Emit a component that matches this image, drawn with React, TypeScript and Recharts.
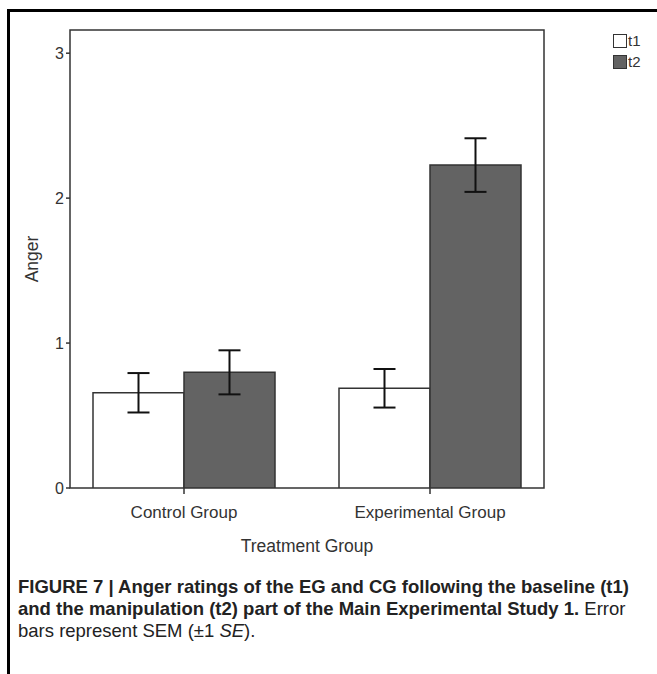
import { Bar, BarChart, ErrorBar, XAxis, YAxis } from "recharts";

const groups = ["Control Group", "Experimental Group"];
const t1Means = [0.657, 0.688];
const t1Se = [0.136, 0.133];
const t2Means = [0.798, 2.228];
const t2Se = [0.152, 0.185];
const yTicks = [0, 1, 2, 3];
const seriesNames = ["t1", "t2"];
const seriesFills = ["#ffffff", "#636363"];

const data = groups.map((group, i) => ({
  group,
  t1: t1Means[i],
  t1Err: t1Se[i],
  t2: t2Means[i],
  t2Err: t2Se[i],
}));

const font = "'Liberation Sans', Arial, sans-serif";
const ink = "#333333";

// plot box edges in page pixels
const box = { left: 70, top: 30, right: 544, bottom: 488 };
const chartW = 657;
const chartH = 560;

function LegendBox() {
  return (
    <div style={{ position: "absolute", left: 613, top: 30, fontFamily: font, fontSize: 15, color: ink }}>
      {seriesNames.map((name, i) => (
        <div key={name} style={{ display: "flex", alignItems: "center", height: 21 }}>
          <span
            style={{
              display: "inline-block",
              width: 12,
              height: 12,
              background: seriesFills[i],
              border: `1px solid ${ink}`,
              marginRight: 1,
            }}
          />
          {name}
        </div>
      ))}
    </div>
  );
}

export default function App() {
  return (
    <div style={{ position: "fixed", left: 0, top: 0, width: 657, height: 674, background: "#fff", overflow: "hidden" }}>
      <div
        style={{
          position: "absolute",
          left: 7,
          top: 9,
          width: 660,
          height: 680,
          borderTop: "3px solid #000",
          borderLeft: "3px solid #000",
        }}
      />
      <div style={{ position: "absolute", left: 0, top: 0 }}>
        <BarChart
          width={chartW}
          height={chartH}
          data={data}
          barGap={0}
          barSize={91}
          margin={{ top: box.top, left: box.left - 30, right: chartW - box.right, bottom: chartH - box.bottom - 30 }}
        >
          <rect
            x={box.left}
            y={box.top}
            width={box.right - box.left}
            height={box.bottom - box.top}
            fill="none"
            stroke={ink}
            strokeWidth={1.5}
          />
          <XAxis
            dataKey="group"
            height={30}
            padding={{ left: -9, right: -9 }}
            axisLine={false}
            tickSize={6}
            tickMargin={12}
            tickLine={{ stroke: ink, strokeWidth: 1.5 }}
            tick={{ fill: ink, fontSize: 17, fontFamily: font }}
          />
          <YAxis
            width={30}
            type="number"
            domain={[0, 3.16]}
            ticks={yTicks}
            allowDataOverflow
            axisLine={false}
            tickSize={4}
            tickLine={{ stroke: ink, strokeWidth: 1.5 }}
            tick={{ fill: ink, fontSize: 16, fontFamily: font }}
          />
          <Bar dataKey="t1" fill={seriesFills[0]} stroke={ink} strokeWidth={1.5} isAnimationActive={false}>
            <ErrorBar dataKey="t1Err" width={11} stroke="#111" strokeWidth={2} isAnimationActive={false} />
          </Bar>
          <Bar dataKey="t2" fill={seriesFills[1]} stroke={ink} strokeWidth={1.5} isAnimationActive={false}>
            <ErrorBar dataKey="t2Err" width={11} stroke="#111" strokeWidth={2} isAnimationActive={false} />
          </Bar>
          <text
            x={(box.left + box.right) / 2}
            y={552}
            textAnchor="middle"
            fill={ink}
            fontSize={17.5}
            fontFamily={font}
          >
            Treatment Group
          </text>
          <text
            x={38}
            y={(box.top + box.bottom) / 2}
            textAnchor="middle"
            transform={`rotate(-90, 38, ${(box.top + box.bottom) / 2})`}
            fill={ink}
            fontSize={17.5}
            fontFamily={font}
          >
            Anger
          </text>
        </BarChart>
      </div>
      <LegendBox />
      <div
        style={{
          position: "absolute",
          left: 18,
          top: 576,
          fontFamily: font,
          fontSize: 18.5,
          lineHeight: "22px",
          color: "#222",
          whiteSpace: "nowrap",
        }}
      >
        <b>FIGURE 7 | Anger ratings of the EG and CG following the baseline (t1)</b>
        <br />
        <b>and the manipulation (t2) part of the Main Experimental Study 1.</b> Error
        <br />
        bars represent SEM (±1 <i>SE</i>).
      </div>
    </div>
  );
}
